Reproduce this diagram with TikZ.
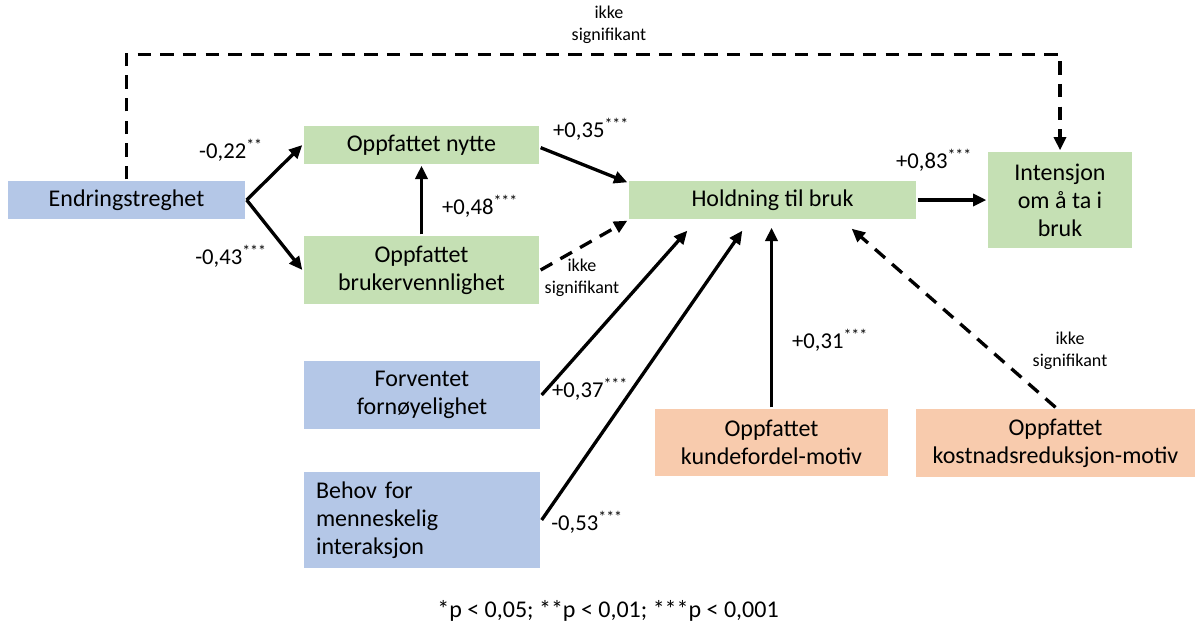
\documentclass[tikz,border=0pt]{standalone}
\usepackage{fontspec}
\setmainfont{Carlito}
\usetikzlibrary{positioning, arrows.meta, calc}

\definecolor{boxblue}{HTML}{B4C7E7}
\definecolor{boxgreen}{HTML}{C5E0B4}
\definecolor{boxorange}{HTML}{F8CBAD}

\begin{document}
\begin{tikzpicture}[
    x = 0.75pt, y = -0.75pt,
    > = {Triangle[length=10pt, width=9pt]}, line width = 2.5pt,
    box/.style 2 args={minimum width=#1*0.75pt, minimum height=#2*0.75pt,
        inner sep=0pt, align=center, font=\fontsize{18}{21}\selectfont},
    blue/.style={box={#1}, fill=boxblue},
    green/.style={box={#1}, fill=boxgreen},
    orange/.style={box={#1}, fill=boxorange},
    coef/.style={font=\fontsize{17}{20}\selectfont},
    ns/.style={font=\fontsize{13.5}{16.5}\selectfont, align=center},
    dashedline/.style={dash pattern=on 10pt off 7pt}
]
\useasboundingbox (0,0) rectangle (1195,625);

% boxes
\node[blue={237}{38}] (endr) at (126.5,200) {Endringstreghet};
\node[green={235}{38}] (nytte) at (421.5,145) {Oppfattet nytte};
\node[green={235}{68}] (bruker) at (421.5,270) {Oppfattet\\brukervennlighet};
\node[green={287}{38}] (holdning) at (772.5,200) {Holdning til bruk};
\node[green={144}{96}] (intensjon) at (1060,200) {Intensjon\\om å ta i\\bruk};
\node[blue={236}{68}] (forventet) at (422,395) {Forventet\\fornøyelighet};
\node[blue={236}{96}, align=left, text width=212*0.75pt] (behov) at (422,520)
    {Behov for\\menneskelig\\interaksjon};
\node[orange={233}{67}] (kunde) at (771.5,442.5) {Oppfattet\\kundefordel-motiv};
\node[orange={279}{68}] (kostnad) at (1055.5,443) {Oppfattet\\kostnadsreduksjon-motiv};

% solid paths
\draw[->] (endr.east) -- (nytte.west);
\draw[->] (endr.east) -- (bruker.west);
\draw[->] (bruker.north) -- (nytte.south);
\draw[->] ([yshift=-2pt]nytte.east) -- ($(holdning.north west)+(0,3)$);
\draw[->] (forventet.east) -- ($(holdning.south west)+(60,10)$);
\draw[->] (behov.east) -- ($(holdning.south west)+(115,10)$);
\draw[->] (kunde.north) -- ($(holdning.south)+(-1,7)$);
\draw[->] (holdning.east) -- (intensjon.west);

% not significant paths
\draw[->, dashedline] (bruker.east) -- (holdning.south west);
\draw[->, dashedline] (kostnad.north) -- ($(holdning.south east)+(-66,8)$);
\draw[->, dashedline] (endr.north) |- ($(intensjon.north)+(0,-96)$) -- (intensjon.north);

% coefficients
\node[coef] (c1) at (231,150) {-0,22\textsuperscript{**}};
\node[coef] (c2) at (231,256) {-0,43\textsuperscript{***}};
\node[coef] (c3) at (480,206) {+0,48\textsuperscript{***}};
\node[coef] (c4) at (591,129) {+0,35\textsuperscript{***}};
\node[coef] (c5) at (934,160) {+0,83\textsuperscript{***}};
\node[coef] (c6) at (590,389) {+0,37\textsuperscript{***}};
\node[coef] (c7) at (830,340) {+0,31\textsuperscript{***}};
\node[coef] (c8) at (587,522) {-0,53\textsuperscript{***}};

\node[ns] (n1) at (609,25) {ikke\\signifikant};
\node[ns] (n2) at (582,278) {ikke\\signifikant};
\node[ns] (n3) at (1070,351) {ikke\\signifikant};

% footnote
\node[font=\fontsize{18}{21}\selectfont] (note) at (608,611)
    {*p < 0,05; **p < 0,01; ***p < 0,001};
\end{tikzpicture}
\end{document}
